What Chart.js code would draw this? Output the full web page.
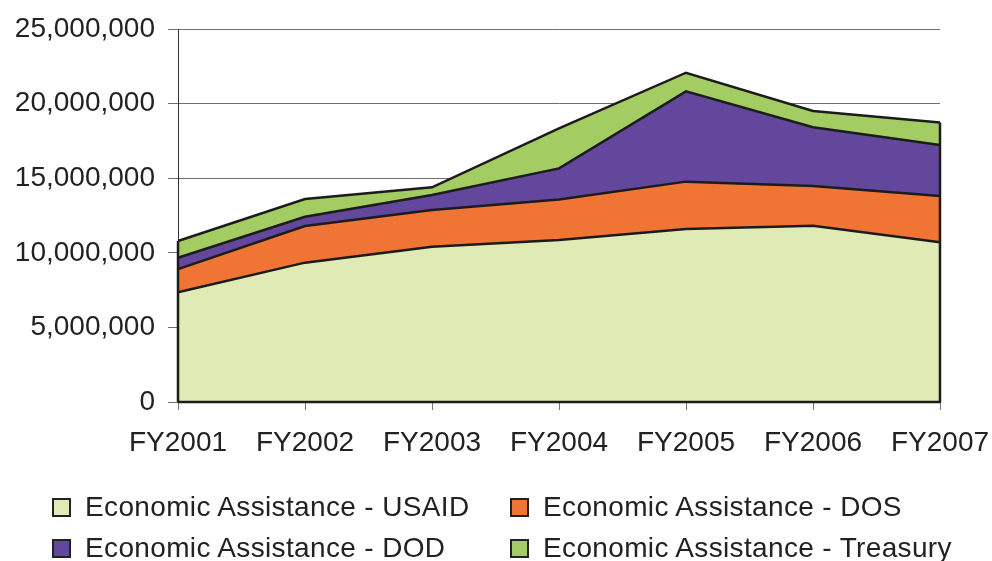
<!DOCTYPE html>
<html>
<head>
<meta charset="utf-8">
<script src="https://cdn.jsdelivr.net/npm/chart.js@4/dist/chart.umd.min.js"></script>
<style>
  html, body { margin: 0; padding: 0; background: #fff; }
  #wrap { position: relative; width: 992px; height: 561px; overflow: hidden; }
  #c { position: absolute; left: 0; top: 0; }
  .lg { position: absolute; font: 28px 'Liberation Sans', Arial, sans-serif; line-height: 28px; color: #222; white-space: nowrap; letter-spacing: 0.35px; }
  .bx { position: absolute; width: 15px; height: 15px; border: 2px solid #222; }
</style>
</head>
<body>
<div id="wrap">
  <canvas id="c" width="992" height="561"></canvas>
  <div id="legend"></div>
</div>
<script>
const categories = ['FY2001', 'FY2002', 'FY2003', 'FY2004', 'FY2005', 'FY2006', 'FY2007'];
const usaid    = [7350000, 9340000, 10410000, 10860000, 11600000, 11820000, 10700000];
const dos      = [1560000, 2460000, 2460000, 2720000, 3170000, 2660000, 3110000];
const dod      = [760000, 620000, 1000000, 2080000, 6050000, 3930000, 3420000];
const treasury = [1120000, 1190000, 520000, 2680000, 1250000, 1090000, 1500000];
const seriesNames = ['Economic Assistance - USAID', 'Economic Assistance - DOS', 'Economic Assistance - DOD', 'Economic Assistance - Treasury'];
const seriesColors = ['#E0EAB4', '#F07534', '#62479C', '#A3CD62'];
const yTicks = [0, 5000000, 10000000, 15000000, 20000000, 25000000];

const seriesData = [usaid, dos, dod, treasury];
const datasets = seriesData.map((d, i) => ({
  label: seriesNames[i],
  data: d,
  backgroundColor: seriesColors[i],
  borderColor: '#1c1c1c',
  borderWidth: 2.5,
  fill: i === 0 ? 'origin' : '-1',
  pointRadius: 0,
  tension: 0
}));

const edgePlugin = {
  id: 'edges',
  afterDatasetsDraw(chart) {
    const ctx = chart.ctx;
    const top = chart.getDatasetMeta(chart.data.datasets.length - 1);
    const y0 = chart.scales.y.getPixelForValue(0);
    const n = categories.length;
    ctx.save();
    ctx.strokeStyle = '#1c1c1c';
    ctx.lineWidth = 2.5;
    [0, n - 1].forEach(idx => {
      const p = top.data[idx];
      ctx.beginPath();
      ctx.moveTo(p.x, y0);
      ctx.lineTo(p.x, p.y);
      ctx.stroke();
    });
    ctx.beginPath();
    ctx.moveTo(top.data[0].x, y0);
    ctx.lineTo(top.data[n - 1].x, y0);
    ctx.stroke();
    ctx.restore();
  }
};

new Chart(document.getElementById('c'), {
  type: 'line',
  data: { labels: categories, datasets },
  options: {
    responsive: false,
    animation: false,
    layout: { padding: { left: 0, right: 52, top: 29, bottom: 99 } },
    plugins: { legend: { display: false }, tooltip: { enabled: false } },
    scales: {
      x: {
        offset: false,
        grid: { display: true, drawOnChartArea: false, drawTicks: true, tickLength: 8, color: '#777', lineWidth: 1 },
        border: { display: true, color: '#1c1c1c', width: 1 },
        ticks: { color: '#222', font: { family: "'Liberation Sans', Arial, sans-serif", size: 28 }, padding: 16, maxRotation: 0, autoSkip: false },
        afterFit(scale) { scale.height = 60; scale.paddingLeft = 0; scale.paddingRight = 0; }
      },
      y: {
        stacked: true,
        min: 0, max: 25000000,
        afterBuildTicks(scale) { scale.ticks = yTicks.map(v => ({ value: v })); },
        grid: { color: '#6e6e6e', lineWidth: 1, tickLength: 10, drawTicks: true },
        border: { display: true, color: '#333', width: 1 },
        ticks: {
          color: '#222',
          font: { family: "'Liberation Sans', Arial, sans-serif", size: 28 },
          padding: 13,
          callback: v => v.toLocaleString('en-US')
        },
        afterFit(scale) { scale.width = 178; scale.paddingTop = 0; scale.paddingBottom = 0; }
      }
    }
  },
  plugins: [edgePlugin]
});

const legend = document.getElementById('legend');
const pos = [
  { bx: 52, tx: 85, row: 0 },
  { bx: 510, tx: 543, row: 0 },
  { bx: 52, tx: 85, row: 1 },
  { bx: 510, tx: 543, row: 1 }
];
const rowTop = [493, 534];
seriesNames.forEach((name, i) => {
  const p = pos[i];
  const b = document.createElement('div');
  b.className = 'bx';
  b.style.left = p.bx + 'px';
  b.style.top = (rowTop[p.row] + 5) + 'px';
  b.style.background = seriesColors[i];
  legend.appendChild(b);
  const t = document.createElement('div');
  t.className = 'lg';
  t.style.left = p.tx + 'px';
  t.style.top = rowTop[p.row] + 'px';
  t.textContent = name;
  legend.appendChild(t);
});
</script>
</body>
</html>
